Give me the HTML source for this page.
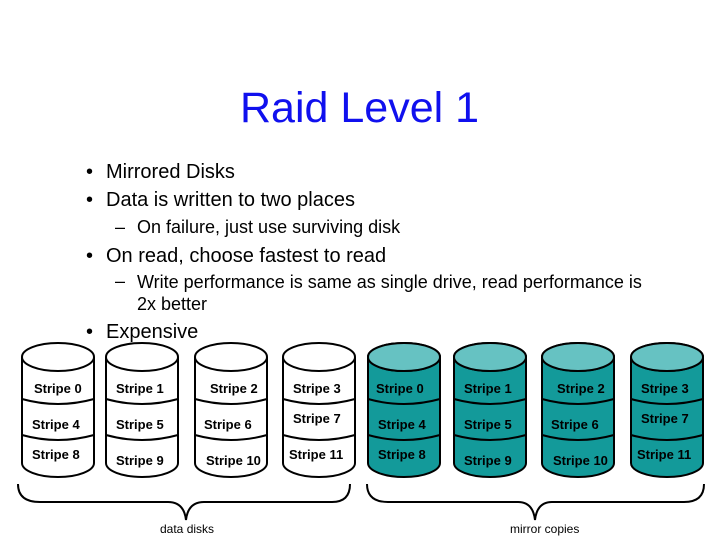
<!DOCTYPE html>
<html><head><style>
body{margin:0;width:720px;height:540px;background:#fff;position:relative;font-family:"Liberation Sans",sans-serif;overflow:hidden}
.t{position:absolute;white-space:nowrap;color:#000}
.b{font-size:20px}
.s{font-size:18px}
</style></head><body>
<div class="t" style="left:240px;top:84px;font-size:43px;color:#1010ee;">Raid Level 1</div>
<div class="t b" style="left:86px;top:161px">•</div><div class="t b" style="left:106px;top:161px">Mirrored Disks</div>
<div class="t b" style="left:86px;top:189px">•</div><div class="t b" style="left:106px;top:189px">Data is written to two places</div>
<div class="t s" style="left:115px;top:217px">–</div><div class="t s" style="left:137px;top:217px">On failure, just use surviving disk</div>
<div class="t b" style="left:86px;top:245px">•</div><div class="t b" style="left:106px;top:245px">On read, choose fastest to read</div>
<div class="t s" style="left:115px;top:271px">–</div><div class="t s" style="left:137px;top:271px;line-height:22px">Write performance is same as single drive, read performance is<br>2x better</div>
<div class="t b" style="left:86px;top:321px">•</div><div class="t b" style="left:106px;top:321px">Expensive</div>
<svg width="720" height="540" style="position:absolute;left:0;top:0" font-family="Liberation Sans, sans-serif" font-size="13" font-weight="bold">
<defs>
<g id="cyl">
<path d="M0,14 L0,120 A36,14 0 0 0 72,120 L72,14" />
<ellipse cx="36" cy="14" rx="36" ry="14"/>
<path d="M0,56 Q36,66 72,56 M0,92 Q36,102 72,92" fill="none"/>
</g>
</defs>
<g stroke="#000" stroke-width="2" fill="#fff">
<use href="#cyl" x="22" y="343"/><use href="#cyl" x="106" y="343"/><use href="#cyl" x="195" y="343"/><use href="#cyl" x="283" y="343"/>
</g>
<g stroke="#000" stroke-width="2" fill="#139a9a">
<use href="#cyl" x="368" y="343"/><use href="#cyl" x="454" y="343"/><use href="#cyl" x="542" y="343"/><use href="#cyl" x="631" y="343"/>
</g>
<g stroke="#000" stroke-width="2" fill="#66c2c2">
<ellipse cx="404" cy="357" rx="36" ry="14"/><ellipse cx="490" cy="357" rx="36" ry="14"/><ellipse cx="578" cy="357" rx="36" ry="14"/><ellipse cx="667" cy="357" rx="36" ry="14"/>
</g>
<g fill="#000" stroke="none">
<text x="34" y="393">Stripe 0</text><text x="32" y="429">Stripe 4</text><text x="32" y="459">Stripe 8</text>
<text x="116" y="393">Stripe 1</text><text x="116" y="429">Stripe 5</text><text x="116" y="465">Stripe 9</text>
<text x="210" y="393">Stripe 2</text><text x="204" y="429">Stripe 6</text><text x="206" y="465">Stripe 10</text>
<text x="293" y="393">Stripe 3</text><text x="293" y="423">Stripe 7</text><text x="289" y="459">Stripe 11</text>
<text x="376" y="393">Stripe 0</text><text x="378" y="429">Stripe 4</text><text x="378" y="459">Stripe 8</text>
<text x="464" y="393">Stripe 1</text><text x="464" y="429">Stripe 5</text><text x="464" y="465">Stripe 9</text>
<text x="557" y="393">Stripe 2</text><text x="551" y="429">Stripe 6</text><text x="553" y="465">Stripe 10</text>
<text x="641" y="393">Stripe 3</text><text x="641" y="423">Stripe 7</text><text x="637" y="459">Stripe 11</text>
<text x="160" y="533" font-size="12" font-weight="normal">data disks</text>
<text x="510" y="533" font-size="12" font-weight="normal">mirror copies</text>
</g>
<g fill="none" stroke="#000" stroke-width="2">
<path d="M18,484 Q18,502 40,502 L168,502 Q184,502 186,520 Q188,502 204,502 L332,502 Q350,502 350,484"/>
<path d="M367,484 Q367,502 388,502 L518,502 Q533,502 535,520 Q537,502 552,502 L684,502 Q704,502 704,484"/>
</g>
</svg>
</body></html>
